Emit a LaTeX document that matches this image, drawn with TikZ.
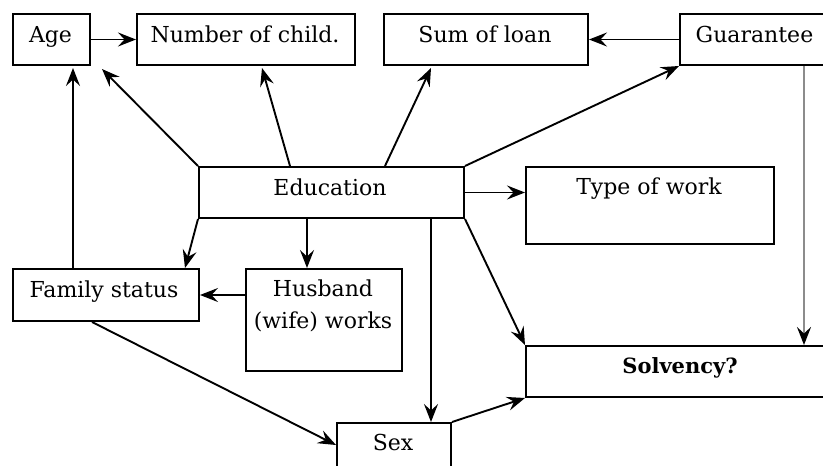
\documentclass[tikz,border=0pt]{standalone}
\usepackage{fontspec}
\setmainfont{DejaVu Serif}
\usetikzlibrary{arrows.meta,calc}
\begin{document}
\begin{tikzpicture}[x=1pt,y=-1pt,
  box/.style={draw, line width=2pt, inner sep=0pt, anchor=north west},
  lbl/.style={anchor=base, inner sep=0pt, font=\fontsize{22}{26}\selectfont},
  tip/.style={-{Stealth[length=18pt,width=14pt,inset=6.5pt,#1]}},
  tip/.default={},
  link/.style={line width=1.9pt, tip},
]
\useasboundingbox (0,0) rectangle (823,466);

% boxes
\node[box, minimum width=77pt,  minimum height=51pt]  (age)  at (12,13)  {};
\node[box, minimum width=218pt, minimum height=51pt]  (num)  at (136,13) {};
\node[box, minimum width=204pt, minimum height=51pt]  (sum)  at (383,13) {};
\node[box, minimum width=151pt, minimum height=51pt]  (guar) at (679,13) {};
\node[box, minimum width=265pt, minimum height=51pt]  (edu)  at (198,166) {};
\node[box, minimum width=248pt, minimum height=77pt]  (work) at (525,166) {};
\node[box, minimum width=186pt, minimum height=52pt]  (fam)  at (12,268) {};
\node[box, minimum width=156pt, minimum height=102pt] (hus)  at (245,268) {};
\node[box, minimum width=309pt, minimum height=51pt]  (solv) at (525,345) {};
\node[box, minimum width=114pt, minimum height=60pt]  (sex)  at (336,422) {};

% labels
\node[lbl] (tage)  at (50.5,42) {Age};
\node[lbl] (tnum)  at (245,42)  {Number of child.};
\node[lbl] (tsum)  at (485,42)  {Sum of loan};
\node[lbl] (tguar) at (754.5,42) {Guarantee};
\node[lbl] (tedu)  at (330,195) {Education};
\node[lbl] (twork) at (649,194) {Type of work};
\node[lbl] (tfam)  at (104,297) {Family status};
\node[lbl] (thus1) at (323,296) {Husband};
\node[lbl] (thus2) at (323,328) {(wife) works};
\node[lbl, font=\fontsize{21}{24}\selectfont\bfseries] (tsolv) at (680,373) {Solvency?};
\node[lbl] (tsex)  at (393,450) {Sex};

% connectors
\draw[link] (age.east) -- (num.west);
\draw[link] (edu.north west) -- ($(age.south east)+(11,3)$);
\draw[link] ($(edu.north west)+(92,0)$) -- ($(num.south west)+(126,2)$);
\draw[link] ($(edu.north west)+(187,0)$) -- ($(sum.south west)+(48,2)$);
\draw[link] (edu.north east) -- (guar.south west);
\draw[link] (guar.west) -- (sum.east);
\draw[link] (edu.east) -- (edu.east -| work.west);
\draw[link] (edu.south west) -- ($(fam.north east)+(-15,0)$);
\draw[link] ($(edu.south west)+(109,0)$) -- ($(hus.north west)+(62,0)$);
\draw[link] ($(fam.north west)+(61,0)$) -- ($(age.south west)+(61,2)$);
\draw[link] ($(hus.north west)+(0,27)$) -- ($(fam.north east)+(0,27)$);
\draw[link] ($(fam.south west)+(80,0)$) -- ($(sex.north west)+(0,23)$);
\draw[link] ($(edu.south west)+(233,0)$) -- ($(sex.north west)+(95,0)$);
\draw[link] (edu.south east) -- (solv.north west);
\draw[link] (sex.north east) -- (solv.south west);
\draw[line width=2.4pt, draw=gray!90, tip=black]
  ($(guar.south west)+(125,0)$) -- ($(solv.north west)+(279,0)$);
\end{tikzpicture}
\end{document}
